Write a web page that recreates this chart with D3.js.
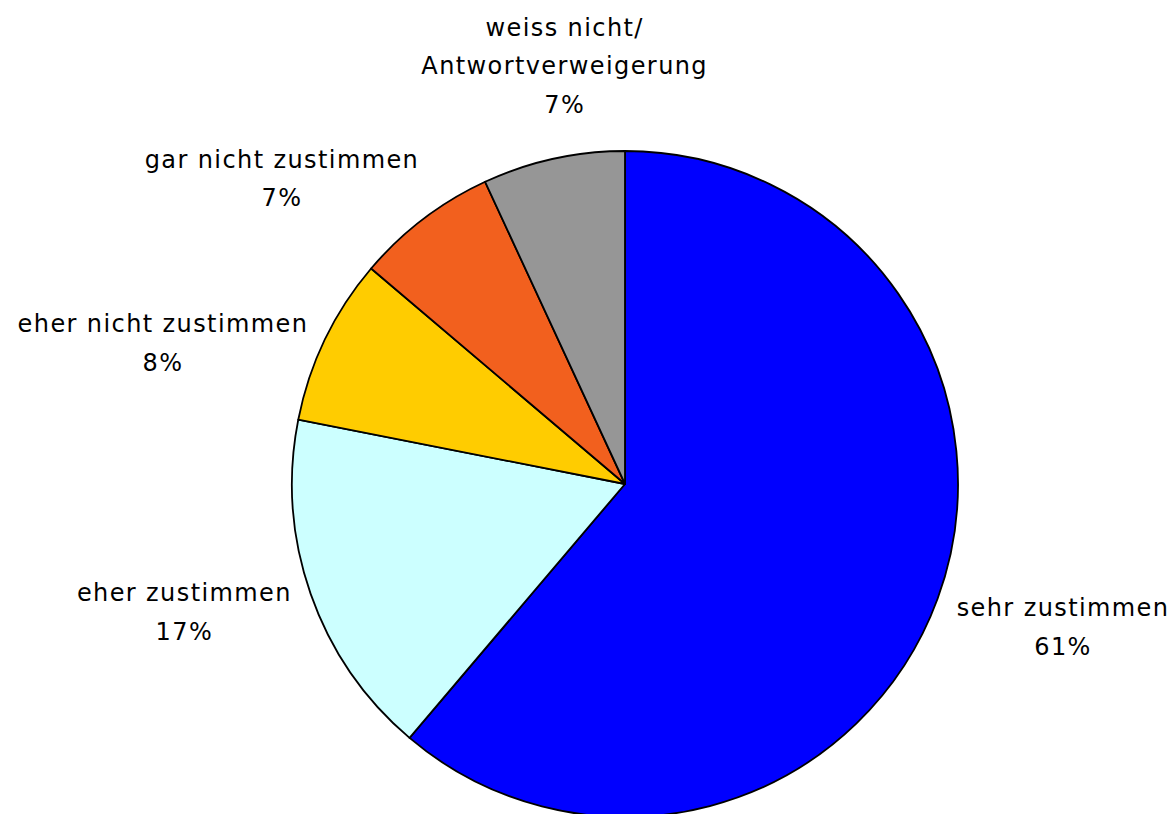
<!DOCTYPE html>
<html>
<head>
<meta charset="utf-8">
<script src="https://cdn.jsdelivr.net/npm/d3@7"></script>
<style>
  html, body { margin: 0; padding: 0; background: #fff; }
  svg { display: block; }
  text { font-family: "DejaVu Sans", sans-serif; font-size: 24px; letter-spacing: 1.4px; fill: #000; }
</style>
</head>
<body>
<svg id="chart" width="1171" height="814"></svg>
<script>
// slices clockwise from 12 o'clock
const categories = ["sehr zustimmen", "eher zustimmen", "eher nicht zustimmen", "gar nicht zustimmen", "weiss nicht/\nAntwortverweigerung"];
const values = [61.2, 16.9, 8.1, 6.9, 6.9];
const percentLabels = ["61%", "17%", "8%", "7%", "7%"];
const colors = ["#0000ff", "#ccffff", "#ffcc00", "#f2601e", "#969696"];
// label placement: angle shift from slice middle (degrees) and distance from centre
const labelShift = [-2, 3, -8.8, -11.1, 4.2];
const labelRadius = [461, 459, 483, 459, 422];

window.addEventListener("load", main);

function main() {
  const cx = 625, cy = 484, r = 333;
  const lineH = 38.5;

  const svg = d3.select("#chart");
  const g = svg.append("g").attr("transform", `translate(${cx},${cy})`);

  const pie = d3.pie().sort(null).value(d => d);
  const arcs = pie(values);
  const arc = d3.arc().innerRadius(0).outerRadius(r);

  g.selectAll("path.slice")
    .data(arcs)
    .enter()
    .append("path")
    .attr("class", "slice")
    .attr("d", arc)
    .style("fill", (d, i) => colors[i])
    .style("stroke", "#000")
    .style("stroke-width", 1.8)
    .style("stroke-linejoin", "round");

  // labels: block of lines centred on a point outside the circle
  arcs.forEach((d, i) => {
    const lines = categories[i].split("\n").concat([percentLabels[i]]);
    const lbl = g.append("text").attr("text-anchor", "middle");
    lines.forEach((s, k) => {
      lbl.append("tspan").attr("x", 0).attr("y", k * lineH).text(s);
    });
    const bb = lbl.node().getBBox();
    const a = (d.startAngle + d.endAngle) / 2 + labelShift[i] * Math.PI / 180;
    const px = labelRadius[i] * Math.sin(a), py = -labelRadius[i] * Math.cos(a);
    const bcx = bb.x + bb.width / 2, bcy = bb.y + bb.height / 2;
    lbl.attr("transform", `translate(${px - bcx},${py - bcy})`);
  });
}
</script>
</body>
</html>
